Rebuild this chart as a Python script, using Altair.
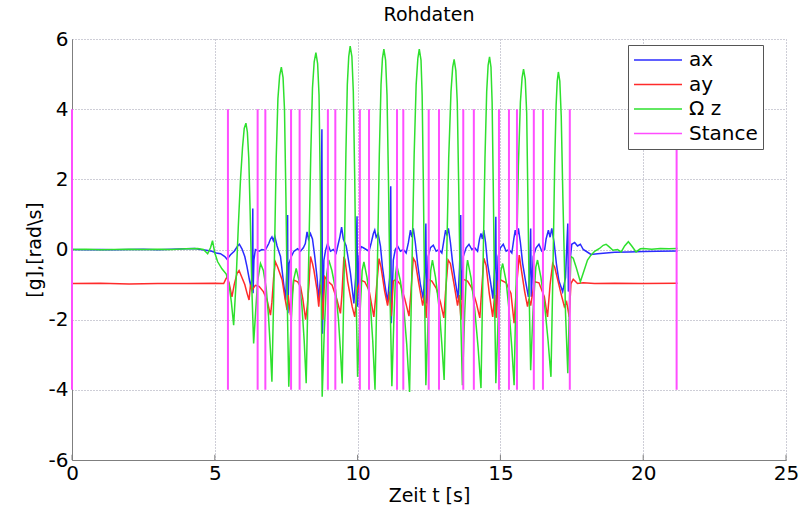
import altair as alt
import pandas as pd

FONT = "DejaVu Sans"

# Axis ticks
x_ticks = [0, 5, 10, 15, 20, 25]
y_ticks = [-6, -4, -2, 0, 2, 4, 6]

# Legend entries and their colours
series_names = ["ax", "ay", "Ω z", "Stance"]
series_colors = ["#2b2bff", "#ff2b2b", "#2ee02e", "#ff4dff"]

# Stance events (s): vertical markers drawn between -4 and 4
stance_t = [0.0, 5.46, 6.50, 6.77, 7.67, 7.97, 8.96, 9.22, 10.08, 10.40, 11.38, 11.60,
            12.49, 12.85, 13.70, 14.07, 14.95, 15.30, 15.58, 16.17, 16.49, 17.43, 21.17]
stance_low = -4
stance_high = 4

# Angular rate Omega z (rad/s): (time, value)
gz_samples = [
    (0.0, 0.0), (0.5, 0.01), (1.0, -0.01), (1.5, 0.0), (2.0, 0.01), (2.5, 0.0), (3.0, 0.01),
    (3.5, 0.0), (4.0, 0.02), (4.4, 0.03), (4.6, 0.0), (4.75, -0.12), (4.85, 0.05), (4.92, 0.25),
    (5.0, -0.1), (5.1, -0.35), (5.25, -0.55), (5.4, -0.7), (5.5, -1.0), (5.58, -1.5),
    # step 1
    (5.66, -2.16), (5.74, -1.0), (5.82, 0.6), (5.90, 2.0), (5.97, 2.9), (6.03, 3.45), (6.09, 3.6),
    (6.14, 3.35), (6.19, 2.6), (6.24, 1.0), (6.30, -1.2), (6.36, -2.68), (6.42, -1.9), (6.5, -0.9),
    (6.6, -0.4), (6.7, -0.6), (6.8, -1.1), (6.88, -1.9), (6.95, -2.9), (7.0, -3.77),
    # step 2
    (7.08, -0.6), (7.15, 2.6), (7.21, 4.3), (7.27, 4.95), (7.33, 5.2), (7.39, 4.9), (7.44, 4.0),
    (7.49, 1.5), (7.54, -1.6), (7.59, -3.91), (7.66, -2.3), (7.75, -0.9), (7.85, -0.54),
    (7.95, -0.9), (8.05, -1.6), (8.13, -2.6), (8.2, -3.81),
    # step 3
    (8.28, -0.6), (8.36, 2.7), (8.42, 4.6), (8.48, 5.35), (8.54, 5.61), (8.6, 5.3), (8.65, 4.4),
    (8.69, 2.0), (8.73, -1.5), (8.76, -4.2), (8.83, -2.4), (8.92, -0.7), (8.99, -0.3), (9.1, -0.6),
    (9.23, -1.16), (9.33, -2.0), (9.4, -2.9), (9.46, -3.82),
    # step 4
    (9.53, -0.6), (9.59, 2.7), (9.64, 4.7), (9.69, 5.5), (9.74, 5.8), (9.8, 5.5), (9.85, 4.5),
    (9.9, 2.0), (9.95, -1.4), (10.0, -3.63), (10.08, -1.9), (10.16, -0.6), (10.22, -0.35),
    (10.33, -0.8), (10.45, -1.6), (10.53, -2.6), (10.61, -4.0),
    # step 5
    (10.69, -0.6), (10.76, 2.7), (10.82, 4.7), (10.87, 5.45), (10.92, 5.71), (10.98, 5.4),
    (11.03, 4.4), (11.08, 2.0), (11.14, -1.5), (11.2, -3.9), (11.27, -2.0), (11.33, -0.7),
    (11.37, -0.45), (11.5, -0.9), (11.62, -1.7), (11.72, -2.7), (11.82, -4.06),
    # step 6
    (11.9, -0.6), (11.98, 2.7), (12.05, 4.7), (12.11, 5.45), (12.16, 5.71), (12.22, 5.4),
    (12.26, 4.4), (12.3, 2.0), (12.35, -1.5), (12.39, -3.87), (12.47, -2.0), (12.56, -0.6),
    (12.62, -0.3), (12.73, -0.8), (12.86, -1.7), (12.95, -2.7), (13.03, -3.72),
    # step 7
    (13.11, -0.6), (13.19, 2.6), (13.27, 4.5), (13.33, 5.2), (13.38, 5.42), (13.44, 5.1),
    (13.49, 4.2), (13.54, 1.8), (13.6, -1.6), (13.67, -3.87), (13.75, -1.8), (13.82, -0.5),
    (13.85, -0.3), (13.97, -0.8), (14.1, -1.7), (14.22, -2.8), (14.32, -3.95),
    # step 8
    (14.39, -0.6), (14.46, 2.6), (14.52, 4.5), (14.57, 5.25), (14.62, 5.49), (14.67, 5.2),
    (14.71, 4.2), (14.75, 1.8), (14.8, -1.6), (14.84, -3.81), (14.93, -1.8), (15.02, -0.6),
    (15.08, -0.4), (15.2, -0.9), (15.3, -1.7), (15.4, -2.8), (15.48, -3.87),
    # step 9
    (15.56, -0.6), (15.63, 2.4), (15.7, 4.2), (15.76, 4.9), (15.81, 5.14), (15.87, 4.85),
    (15.92, 3.9), (15.96, 1.6), (16.01, -1.4), (16.06, -3.44), (16.14, -1.8), (16.24, -0.5),
    (16.3, -0.3), (16.42, -0.8), (16.55, -1.6), (16.67, -2.6), (16.77, -3.63),
    # step 10
    (16.84, -0.6), (16.9, 2.4), (16.95, 4.1), (16.99, 4.8), (17.03, 5.06), (17.08, 4.8),
    (17.13, 3.8), (17.19, 1.4), (17.28, -1.8), (17.36, -3.53), (17.42, -1.5), (17.47, -0.2),
    # settling
    (17.55, -0.25), (17.65, -0.5), (17.8, -0.92), (17.95, -0.55), (18.05, -0.3), (18.17, -0.16),
    (18.3, -0.05), (18.47, 0.03), (18.6, 0.12), (18.7, 0.15), (18.8, 0.08), (18.94, -0.02),
    (19.1, 0.0), (19.23, -0.07), (19.35, 0.1), (19.48, 0.22), (19.6, 0.1), (19.75, -0.07),
    (19.9, 0.02), (20.0, 0.03), (20.3, 0.01), (20.6, 0.03), (20.9, 0.02), (21.2, 0.03),
]

# Acceleration ax (g)
ax_samples = [
    (0.0, 0.0), (0.5, -0.01), (1.0, 0.0), (1.5, -0.01), (2.0, 0.0), (2.5, 0.01), (3.0, -0.01),
    (3.5, 0.01), (4.0, 0.02), (4.3, 0.03), (4.5, 0.0), (4.7, -0.02), (4.9, -0.05), (5.05, -0.1),
    (5.2, -0.12), (5.35, -0.2), (5.43, -0.28), (5.55, -0.15), (5.68, -0.05), (5.8, 0.1),
    (5.86, 0.15), (5.95, 0.02), (6.05, -0.2), (6.13, -0.5), (6.22, -0.9), (6.27, -1.07),
    (6.31, -0.6), (6.33, 1.17), (6.34, -1.25), (6.37, -0.3), (6.42, 0.0), (6.55, -0.05),
    (6.65, 0.0), (6.77, -0.02), (6.89, 0.17), (6.95, 0.3), (7.0, 0.36), (7.05, 0.25), (7.1, 0.38),
    (7.18, 0.1), (7.3, -0.2), (7.41, -0.97), (7.48, -1.44), (7.52, -0.6), (7.55, 0.98),
    (7.56, -1.82), (7.6, -0.4), (7.68, -0.2), (7.77, -0.05), (7.9, 0.02), (8.0, -0.05), (8.1, 0.05),
    (8.17, 0.17), (8.23, 0.5), (8.28, 0.3), (8.35, 0.45), (8.42, 0.3), (8.5, -0.2), (8.58, -0.8),
    (8.64, -1.44), (8.7, -0.8), (8.75, 3.43), (8.77, -2.4), (8.82, -0.3), (8.88, -0.02),
    (8.95, 0.17), (9.05, -0.05), (9.15, 0.0), (9.25, -0.1), (9.32, 0.15), (9.38, 0.36),
    (9.44, 0.64), (9.5, 0.3), (9.6, 0.1), (9.68, -0.3), (9.75, -0.68), (9.87, -1.54), (9.93, -0.8),
    (9.98, 0.95), (10.0, -1.63), (10.05, -0.2), (10.12, 0.08), (10.2, 0.05), (10.3, 0.0),
    (10.4, -0.05), (10.48, 0.2), (10.55, 0.45), (10.6, 0.55), (10.65, 0.35), (10.72, 0.45),
    (10.8, 0.1), (10.87, -0.5), (10.95, -0.97), (11.05, -1.5), (11.12, -0.8), (11.16, 1.8),
    (11.18, -2.1), (11.25, -0.3), (11.32, 0.0), (11.4, 0.1), (11.5, -0.05), (11.6, 0.0),
    (11.7, -0.1), (11.78, 0.2), (11.85, 0.55), (11.9, 0.35), (11.95, 0.6), (12.02, 0.2),
    (12.1, -0.4), (12.2, -1.0), (12.3, -1.4), (12.36, -0.5), (12.39, 0.74), (12.41, -1.54),
    (12.47, -0.2), (12.55, 0.05), (12.65, 0.12), (12.75, -0.05), (12.85, 0.0), (12.95, -0.1),
    (13.02, 0.25), (13.08, 0.55), (13.13, 0.4), (13.18, 0.6), (13.25, 0.2), (13.33, -0.4),
    (13.42, -0.9), (13.52, -1.4), (13.57, -0.5), (13.61, 0.98), (13.63, -1.44), (13.7, -0.2),
    (13.8, 0.05), (13.9, 0.15), (14.0, 0.0), (14.1, 0.05), (14.2, -0.05), (14.27, 0.3),
    (14.32, 0.46), (14.37, 0.3), (14.42, 0.55), (14.48, 0.2), (14.55, -0.4), (14.65, -0.9),
    (14.74, -1.4), (14.8, -0.5), (14.84, 0.93), (14.86, -1.92), (14.92, -0.2), (15.0, 0.05),
    (15.1, 0.15), (15.2, -0.05), (15.3, 0.0), (15.4, -0.1), (15.47, 0.3), (15.52, 0.55),
    (15.58, 0.35), (15.63, 0.6), (15.7, 0.2), (15.78, -0.4), (15.88, -0.9), (15.98, -1.35),
    (16.03, -0.5), (16.06, 0.6), (16.08, -1.35), (16.15, -0.2), (16.25, 0.05), (16.35, 0.15),
    (16.45, -0.05), (16.55, 0.0), (16.6, 0.3), (16.68, 0.55), (16.74, 0.35), (16.8, 0.6),
    (16.88, 0.2), (16.96, -0.4), (17.05, -0.9), (17.18, -1.2), (17.28, -0.8), (17.33, 0.2),
    (17.36, 0.74), (17.38, -1.2), (17.44, -0.3), (17.5, 0.15), (17.6, 0.2), (17.7, 0.1),
    (17.8, 0.15), (17.9, 0.0), (18.0, -0.05), (18.17, -0.14), (18.4, -0.12), (18.7, -0.1),
    (19.0, -0.08), (19.5, -0.07), (20.0, -0.06), (20.5, -0.05), (21.2, -0.04),
]

# Acceleration ay (g)
ay_samples = [
    (0.0, -0.97), (1.0, -0.96), (2.0, -0.98), (3.0, -0.97), (4.0, -0.97), (5.0, -0.96),
    (5.31, -0.97), (5.38, -0.85), (5.43, -0.78), (5.5, -0.95), (5.6, -1.35), (5.68, -1.0),
    (5.78, -0.68), (5.85, -0.6), (5.95, -0.8), (6.05, -1.0), (6.13, -1.25), (6.2, -1.44),
    (6.25, -1.0), (6.3, -1.16), (6.42, -1.02), (6.55, -1.05), (6.7, -1.2), (6.83, -1.44),
    (6.95, -1.87), (7.0, -1.5), (7.06, -0.8), (7.12, -0.35), (7.2, -0.5), (7.36, -0.87),
    (7.45, -1.35), (7.53, -1.73), (7.57, -1.3), (7.65, -1.87), (7.72, -1.2), (7.77, -0.87),
    (7.9, -0.92), (8.0, -1.05), (8.08, -1.4), (8.18, -2.0), (8.24, -1.6), (8.3, -0.97),
    (8.35, -0.2), (8.42, -0.4), (8.47, -0.59), (8.58, -1.16), (8.64, -1.63), (8.7, -1.0),
    (8.74, -1.3), (8.78, -2.0), (8.85, -0.78), (8.98, -0.92), (9.11, -1.02), (9.28, -1.44),
    (9.4, -1.82), (9.45, -1.3), (9.52, -0.21), (9.56, -0.3), (9.65, -0.9), (9.81, -1.63),
    (9.9, -1.92), (9.99, -1.16), (10.1, -0.87), (10.25, -0.92), (10.4, -1.16), (10.57, -1.92),
    (10.65, -1.2), (10.75, -0.26), (10.82, -0.5), (10.95, -1.2), (11.05, -1.6), (11.12, -1.2),
    (11.18, -1.9), (11.25, -0.9), (11.35, -0.85), (11.5, -1.0), (11.65, -1.4), (11.8, -1.9),
    (11.86, -1.3), (11.95, -0.25), (12.02, -0.35), (12.15, -1.0), (12.28, -1.6), (12.34, -1.3),
    (12.4, -1.95), (12.48, -0.85), (12.6, -0.9), (12.75, -1.1), (12.9, -1.5), (13.02, -1.95),
    (13.08, -1.2), (13.17, -0.3), (13.25, -0.4), (13.38, -1.0), (13.5, -1.6), (13.56, -1.3),
    (13.62, -2.0), (13.7, -0.85), (13.85, -0.9), (14.0, -1.1), (14.15, -1.5), (14.28, -1.95),
    (14.34, -1.2), (14.42, -0.25), (14.5, -0.45), (14.61, -1.25), (14.73, -1.92), (14.8, -1.3),
    (14.85, -1.95), (14.92, -0.9), (15.02, -0.87), (15.2, -0.95), (15.37, -1.25), (15.48, -2.1),
    (15.55, -1.2), (15.66, -0.16), (15.72, -0.5), (15.85, -1.2), (15.95, -1.63), (16.0, -1.4),
    (16.06, -1.6), (16.19, -0.92), (16.35, -0.95), (16.54, -1.35), (16.65, -1.92), (16.74, -1.0),
    (16.83, -0.4), (16.9, -0.5), (17.12, -1.25), (17.24, -1.63), (17.32, -1.5), (17.41, -1.92),
    (17.47, -0.97), (17.55, -0.85), (17.7, -0.97), (17.9, -0.95), (18.3, -0.97), (19.0, -0.96),
    (20.0, -0.97), (21.2, -0.96),
]


def frame(samples, name):
    return pd.DataFrame({"t": [s[0] for s in samples],
                         "v": [s[1] for s in samples],
                         "series": name})


ax_df = frame(ax_samples, "ax")
ay_df = frame(ay_samples, "ay")
gz_df = frame(gz_samples, "Ω z")
stance_df = pd.DataFrame({"t": stance_t, "v": stance_low, "v2": stance_high, "series": "Stance"})
tick_df = pd.DataFrame({"t": x_ticks, "v": -6.0, "v2": -5.85})

# plain ASCII hyphen for negative tick labels
plain_label = "'' + datum.value"

x_enc = alt.X(
    "t:Q",
    scale=alt.Scale(domain=[0, 25], nice=False, zero=False),
    axis=alt.Axis(values=x_ticks, title="Zeit t [s]", labelFlush=False, labelPadding=3,
                  titlePadding=3, labelExpr=plain_label),
)
y_enc = alt.Y(
    "v:Q",
    scale=alt.Scale(domain=[-6, 6], nice=False, zero=False),
    axis=alt.Axis(values=y_ticks, title="[g],[rad\\s]", labelPadding=4, titlePadding=4,
                  labelExpr=plain_label),
)
color_enc = alt.Color(
    "series:N",
    scale=alt.Scale(domain=series_names, range=series_colors),
    legend=alt.Legend(
        orient="none", legendX=556, legendY=6, title=None,
        symbolType="stroke", symbolSize=2304, symbolStrokeWidth=1.5,
        labelFont=FONT, labelFontSize=20, labelColor="black", labelOffset=6,
        clipHeight=20, rowPadding=4.5, padding=5,
        strokeColor="#555555", fillColor="white",
    ),
)


def line_layer(df):
    return alt.Chart(df).mark_line(strokeWidth=1.5).encode(
        x=x_enc, y=y_enc, color=color_enc, order="t:Q"
    )


ticks = alt.Chart(tick_df).mark_rule(color="#7f7f7f", strokeWidth=1).encode(
    x=x_enc, y=y_enc, y2="v2:Q"
)
stance = alt.Chart(stance_df).mark_rule(strokeWidth=2).encode(
    x=x_enc, y=y_enc, y2="v2:Q", color=color_enc
)

chart = alt.layer(
    ticks, line_layer(ax_df), line_layer(ay_df), line_layer(gz_df), stance
).properties(
    width=714,
    height=421,
    title=alt.TitleParams("Rohdaten", font=FONT, fontSize=19, fontWeight="normal",
                          color="black", offset=4, anchor="middle"),
    autosize=alt.AutoSizeParams(type="none"),
    padding={"left": 72, "top": 39, "right": 14, "bottom": 50},
).configure_view(
    stroke=None
).configure_axis(
    labelFont=FONT, labelFontSize=20, labelColor="black",
    titleFont=FONT, titleFontSize=19, titleFontWeight="normal", titleColor="black",
    domainColor="#7f7f7f", domainWidth=1, ticks=False,
    grid=True, gridColor="#9c9cae", gridDash=[1, 2], gridWidth=1,
)

chart.save("out.html", embed_options={"renderer": "svg", "actions": False})
